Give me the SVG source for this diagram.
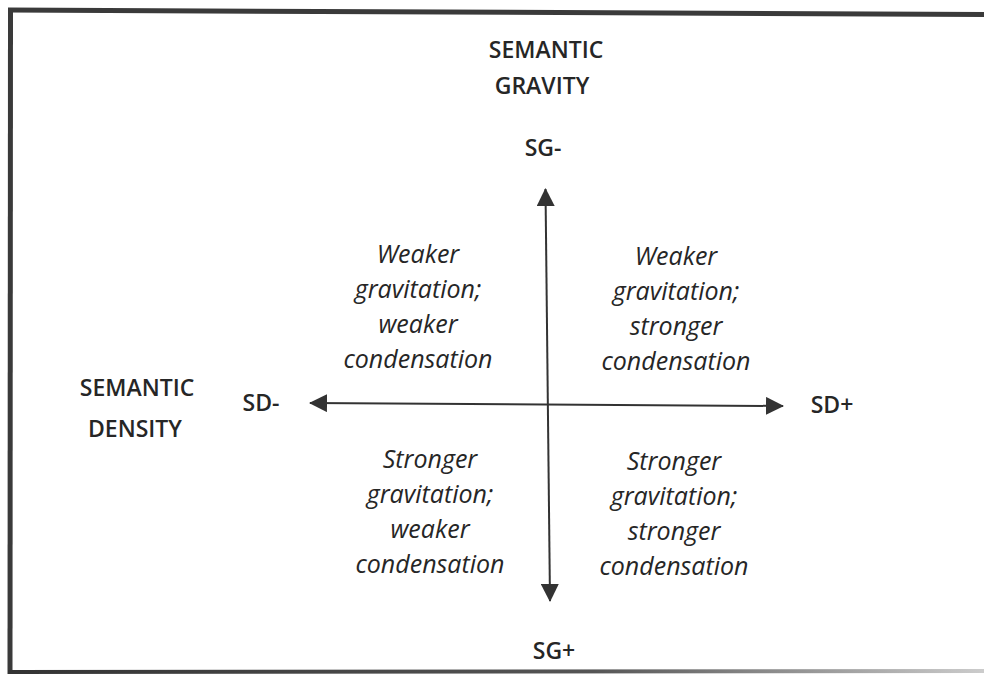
<svg xmlns="http://www.w3.org/2000/svg" width="984" height="677" viewBox="0 0 984 677">
<style>
.lbl{font-family:"Open Sans","Noto Sans","Liberation Sans",sans-serif;font-weight:600;font-size:23px;fill:#262626;text-anchor:middle}
.q{font-family:"Open Sans","Noto Sans","Liberation Sans",sans-serif;font-style:italic;font-size:25px;fill:#262626;text-anchor:middle}
.axis{stroke:#333;stroke-width:2;fill:none}
.frame{stroke:#3a3a3a;stroke-width:5;fill:none}
</style>
<defs>
<marker id="ah" viewBox="0 0 18 18" refX="17" refY="9" markerWidth="18" markerHeight="18" markerUnits="userSpaceOnUse" orient="auto-start-reverse">
<path d="M0,0 L18,9 L0,18 Z" fill="#333"/>
</marker>
<linearGradient id="fade" x1="0" y1="0" x2="1" y2="0">
<stop offset="0" stop-color="#333"/>
<stop offset="0.6" stop-color="#555"/>
<stop offset="1" stop-color="#ccc"/>
</linearGradient>
</defs>
<rect x="0" y="0" width="984" height="677" fill="#fff"/>
<g id="frame">
<line class="frame" x1="8" y1="10" x2="984" y2="14.5"/>
<line class="frame" x1="10.5" y1="8" x2="10" y2="674"/>
<line x1="8" y1="672" x2="984" y2="671" stroke="url(#fade)" stroke-width="4"/>
</g>
<g id="connectors">
<line class="axis" x1="545.5" y1="189" x2="550" y2="601" marker-start="url(#ah)" marker-end="url(#ah)"/>
<line class="axis" x1="310" y1="403" x2="783" y2="406" marker-start="url(#ah)" marker-end="url(#ah)"/>
</g>
<g id="semantic-gravity"><text class="lbl" x="546" y="58">SEMANTIC</text><text class="lbl" x="542" y="94">GRAVITY</text></g>
<g id="sg-minus"><text class="lbl" x="543" y="156">SG-</text></g>
<g id="sg-plus"><text class="lbl" x="554" y="659">SG+</text></g>
<g id="semantic-density"><text class="lbl" x="137" y="396">SEMANTIC</text><text class="lbl" x="135" y="437">DENSITY</text></g>
<g id="sd-minus"><text class="lbl" x="261" y="411">SD-</text></g>
<g id="sd-plus"><text class="lbl" x="832" y="413">SD+</text></g>
<g id="q-top-left">
<text class="q" x="418" y="263">Weaker</text>
<text class="q" x="418" y="298">gravitation;</text>
<text class="q" x="418" y="333">weaker</text>
<text class="q" x="418" y="368">condensation</text>
</g>
<g id="q-top-right">
<text class="q" x="676" y="265">Weaker</text>
<text class="q" x="676" y="300">gravitation;</text>
<text class="q" x="676" y="335">stronger</text>
<text class="q" x="676" y="370">condensation</text>
</g>
<g id="q-bottom-left">
<text class="q" x="430" y="468">Stronger</text>
<text class="q" x="430" y="503">gravitation;</text>
<text class="q" x="430" y="538">weaker</text>
<text class="q" x="430" y="573">condensation</text>
</g>
<g id="q-bottom-right">
<text class="q" x="674" y="470">Stronger</text>
<text class="q" x="674" y="505">gravitation;</text>
<text class="q" x="674" y="540">stronger</text>
<text class="q" x="674" y="575">condensation</text>
</g>
</svg>
